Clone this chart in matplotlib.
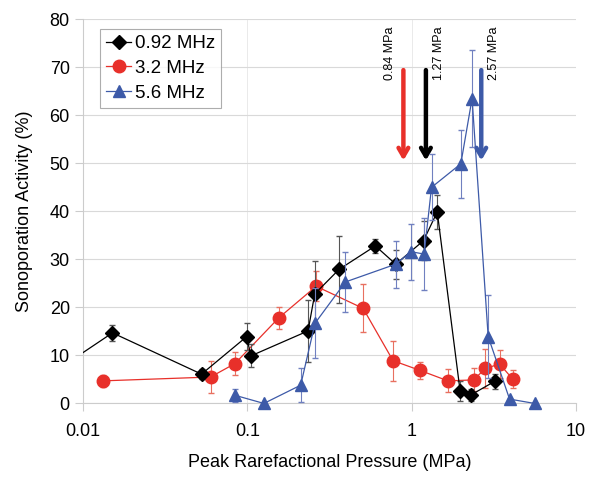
import matplotlib
matplotlib.use("Agg")
import matplotlib.pyplot as plt
from matplotlib.lines import Line2D

plt.rcParams['font.family'] = ['Liberation Sans', 'DejaVu Sans']

# 0.92 MHz (black diamonds)
p_092 = [0.006, 0.0151, 0.0526, 0.0989, 0.105, 0.234, 0.257, 0.361, 0.601, 0.80, 1.18, 1.43, 1.97, 2.30, 3.20]
a_092 = [5.5, 14.7, 6.1, 13.9, 9.9, 15.1, 22.8, 27.9, 32.8, 29.0, 33.9, 39.9, 2.6, 1.8, 4.6]
e_092 = [0.0, 1.7, 1.0, 2.8, 2.4, 6.5, 6.9, 6.9, 1.5, 3.0, 4.0, 3.6, 2.0, 1.2, 1.5]

# 3.2 MHz (red circles)
p_32 = [0.0132, 0.0597, 0.084, 0.155, 0.262, 0.506, 0.77, 1.12, 1.66, 2.38, 2.81, 3.43, 4.11]
a_32 = [4.7, 5.5, 8.3, 17.8, 24.4, 19.8, 8.9, 6.9, 4.7, 4.9, 7.3, 8.2, 5.1]
e_32 = [1.3, 3.3, 2.4, 2.2, 3.1, 5.0, 4.2, 1.8, 2.4, 2.4, 4.0, 3.0, 1.9]

# 5.6 MHz (blue triangles)
p_56 = [0.084, 0.126, 0.211, 0.258, 0.395, 0.80, 0.99, 1.19, 1.32, 1.99, 2.33, 2.92, 3.94, 5.6]
a_56 = [1.7, 0.0, 3.8, 16.7, 25.3, 29.0, 31.6, 31.1, 45.0, 49.9, 63.5, 13.9, 0.9, 0.0]
e_56 = [1.3, 0.0, 3.5, 7.3, 6.2, 4.9, 5.8, 7.5, 6.9, 7.1, 10.1, 8.7, 0.0, 0.0]

# threshold arrows
arrow_x = [0.89, 1.22, 2.65]
arrow_lbl = ['0.84 MPa', '1.27 MPa', '2.57 MPa']
arrow_col = ['#e8302a', 'black', '#3d5aa8']
arrow_side = [-1, 1, 1]

red = '#e8302a'
blue = '#3d5aa8'

fig = plt.figure(figsize=(5.89, 4.82), dpi=100)
ax = fig.add_axes([0.141, 0.163, 0.837, 0.797])

ax.errorbar(p_092, a_092, yerr=e_092, color='black', lw=0.9, marker='D', ms=7,
            elinewidth=0.8, ecolor='#555555', capsize=2, zorder=3)
ax.errorbar(p_32, a_32, yerr=e_32, color=red, lw=0.9, marker='o', ms=9,
            elinewidth=0.8, ecolor='#e87060', capsize=2, zorder=2)
ax.errorbar(p_56, a_56, yerr=e_56, color=blue, lw=0.9, marker='^', ms=9,
            elinewidth=0.8, ecolor='#7080c0', capsize=2, zorder=4, clip_on=False)

for x, lbl, c, s in zip(arrow_x, arrow_lbl, arrow_col, arrow_side):
    ax.annotate('', xy=(x, 50), xytext=(x, 70),
                arrowprops=dict(arrowstyle='->,head_width=0.35,head_length=0.6', color=c, lw=3.2))
    ax.text(x * (10 ** (s * 0.08)), 78.6, lbl, rotation=90, ha='center', va='top', fontsize=9)

ax.set_xscale('log')
ax.set_xlim(0.01, 10)
ax.set_ylim(0, 80)
ax.set_yticks(range(0, 81, 10))
ax.set_xticks([0.01, 0.1, 1, 10])
ax.set_xticklabels(['0.01', '0.1', '1', '10'])
ax.minorticks_off()
ax.grid(axis='y', color='#d9d9d9', lw=0.8)
ax.grid(axis='x', color='#e6e6e6', lw=0.6)
ax.set_axisbelow(True)
for s in ['top', 'right']:
    ax.spines[s].set_visible(False)
for s in ['left', 'bottom']:
    ax.spines[s].set_color('#cccccc')
ax.tick_params(axis='both', colors='#cccccc', labelcolor='black', labelsize=13, length=6, width=0.8)
ax.tick_params(axis='x', pad=8)

ax.set_xlabel('Peak Rarefactional Pressure (MPa)', fontsize=13, labelpad=10)
ax.set_ylabel('Sonoporation Activity (%)', fontsize=13, labelpad=12)

handles = [
    Line2D([], [], color='black', lw=0.9, marker='D', ms=7),
    Line2D([], [], color=red, lw=0.9, marker='o', ms=9),
    Line2D([], [], color=blue, lw=0.9, marker='^', ms=9),
]
leg = ax.legend(handles, ['0.92 MHz', '3.2 MHz', '5.6 MHz'], loc='upper left',
                bbox_to_anchor=(0.015, 1.0), fontsize=13.5, frameon=True,
                fancybox=False, edgecolor='#999999', handlelength=1.3, handletextpad=0.2,
                borderpad=0.35, labelspacing=0.4)
leg.get_frame().set_linewidth(0.8)

fig.savefig('out.png', dpi=100)
